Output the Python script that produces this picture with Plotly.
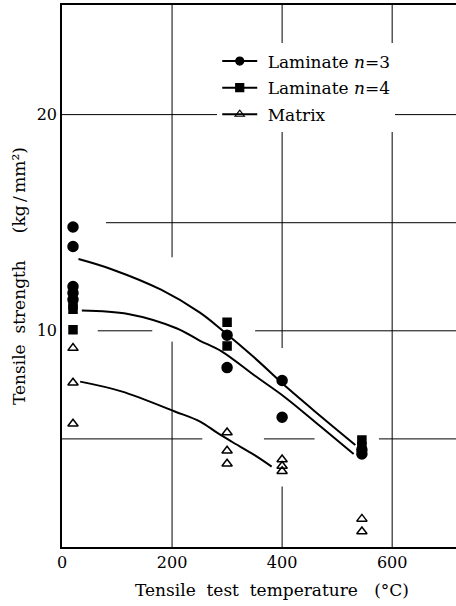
import plotly.graph_objects as go

# ---- data ----
lam3_temp = [20, 20, 20, 20, 20, 300, 300, 400, 400, 545, 545]
lam3_strength = [14.8, 13.9, 12.05, 11.75, 11.45, 9.8, 8.3, 7.7, 6.0, 4.5, 4.3]

lam4_temp = [20, 20, 20, 300, 300, 545, 545]
lam4_strength = [11.2, 11.0, 10.05, 10.4, 9.3, 4.95, 4.65]

matrix_temp = [20, 20, 20, 300, 300, 300, 400, 400, 400, 545, 545]
matrix_strength = [9.2, 7.6, 5.7, 5.3, 4.45, 3.85, 4.05, 3.75, 3.5, 1.3, 0.72]

# fitted trend curves
lam3_curve_temp = [30, 90, 180, 250, 290, 350, 410, 470, 533]
lam3_curve_strength = [13.32, 12.85, 11.9, 10.85, 10.05, 8.75, 7.35, 6.05, 4.72]

lam4_curve_temp = [36, 120, 208, 250, 290, 350, 405, 470, 530]
lam4_curve_strength = [10.94, 10.78, 10.12, 9.55, 9.05, 7.93, 6.93, 5.57, 4.3]

matrix_curve_temp = [33, 108, 205, 251, 281, 308, 350, 381]
matrix_curve_strength = [7.65, 7.2, 6.27, 5.8, 5.3, 4.88, 4.25, 3.72]

series_names = ["\u00a0Laminate <i>n</i>=3", "\u00a0Laminate <i>n</i>=4", "\u00a0Matrix"]

x_tick_vals = [0, 200, 400, 600]
x_tick_text = ["0", "200", "400", "600"]
y_tick_vals = [10, 20]
y_tick_text = ["10", "20"]

x_title = "Tensile\u00a0 test\u00a0 temperature\u00a0\u00a0 (°C)"
y_title = "Tensile\u00a0 strength\u00a0\u00a0\u00a0\u00a0 (kg\u2009/\u2009mm²)"

X_MAX = 716
Y_MAX = 25.07

# grid lines of the original drawing (broken where marks pass)
grid_h = {
    5: [(0, 255), (367, 459), (576, X_MAX)],
    10: [(65, 164), (351, X_MAX)],
    15: [(80, X_MAX)],
    20: [(0, X_MAX)],
}
grid_v = {
    200: [(0, 9.5), (13.4, Y_MAX)],
    400: [(0, 2.8), (9.2, Y_MAX)],
    600: [(0, Y_MAX)],
}

FONT = "DejaVu Serif"
BLACK = "#000000"

fig = go.Figure()

symbols = ["circle", "square", "triangle-up-open"]
sizes = [10, 8, 9]
point_sets = [(lam3_temp, lam3_strength), (lam4_temp, lam4_strength), (matrix_temp, matrix_strength)]
curve_sets = [(lam3_curve_temp, lam3_curve_strength), (lam4_curve_temp, lam4_curve_strength),
              (matrix_curve_temp, matrix_curve_strength)]

for (cx, cy) in curve_sets:
    fig.add_trace(go.Scatter(x=cx, y=cy, mode="lines", line=dict(color=BLACK, width=2, shape="spline"),
                             showlegend=False, hoverinfo="skip"))

for (px, py), sym, sz in zip(point_sets, symbols, sizes):
    fig.add_trace(go.Scatter(x=px, y=py, mode="markers",
                             marker=dict(symbol=sym, size=sz, color=BLACK, line=dict(color=BLACK, width=1.5)),
                             showlegend=False))

# legend entries
for i, (name, sym, sz) in enumerate(zip(series_names, symbols, sizes)):
    fig.add_trace(go.Scatter(x=[None], y=[None], mode="lines+markers", name=name, legendgroup=str(i),
                             line=dict(color=BLACK, width=2),
                             marker=dict(symbol=sym, size=8, color=BLACK, line=dict(color=BLACK, width=1.2))))

shapes = []
for yv, segs in grid_h.items():
    for a, b in segs:
        shapes.append(dict(type="line", xref="x", yref="y", x0=a, x1=b, y0=yv, y1=yv,
                           line=dict(color=BLACK, width=1), layer="below"))
for xv, segs in grid_v.items():
    for a, b in segs:
        shapes.append(dict(type="line", xref="x", yref="y", x0=xv, x1=xv, y0=a, y1=b,
                           line=dict(color=BLACK, width=1), layer="below"))

fig.update_layout(
    width=456, height=606,
    margin=dict(l=62, r=0, t=5, b=59),
    paper_bgcolor="white", plot_bgcolor="white",
    font=dict(family=FONT, size=16, color=BLACK),
    showlegend=True,
    shapes=shapes,
    legend=dict(x=0.394, y=0.929, xanchor="left", yanchor="top", bgcolor="white",
                borderwidth=0, tracegroupgap=1.5, font=dict(family=FONT, size=17, color=BLACK),
                itemwidth=35),
    xaxis=dict(range=[0, X_MAX], tickvals=x_tick_vals, ticktext=x_tick_text,
               showgrid=False, showline=True, linecolor=BLACK, linewidth=1.5, mirror=True,
               ticks="", zeroline=False),
    yaxis=dict(range=[0, Y_MAX], tickvals=y_tick_vals, ticktext=y_tick_text,
               showgrid=False, showline=True, linecolor=BLACK, linewidth=1.5, mirror=False,
               ticks="", zeroline=False),
    annotations=[
        dict(text=x_title, xref="paper", yref="paper", x=0.534, y=-0.0793,
             xanchor="center", yanchor="middle", showarrow=False,
             font=dict(family=FONT, size=17, color=BLACK)),
        dict(text=y_title, xref="paper", yref="paper", x=-0.109, y=0.50, textangle=-90,
             xanchor="center", yanchor="middle", showarrow=False,
             font=dict(family=FONT, size=17, color=BLACK)),
    ],
)

fig.write_html("out.html", config={"displayModeBar": False},
               post_script="document.body.style.margin='0px';")
